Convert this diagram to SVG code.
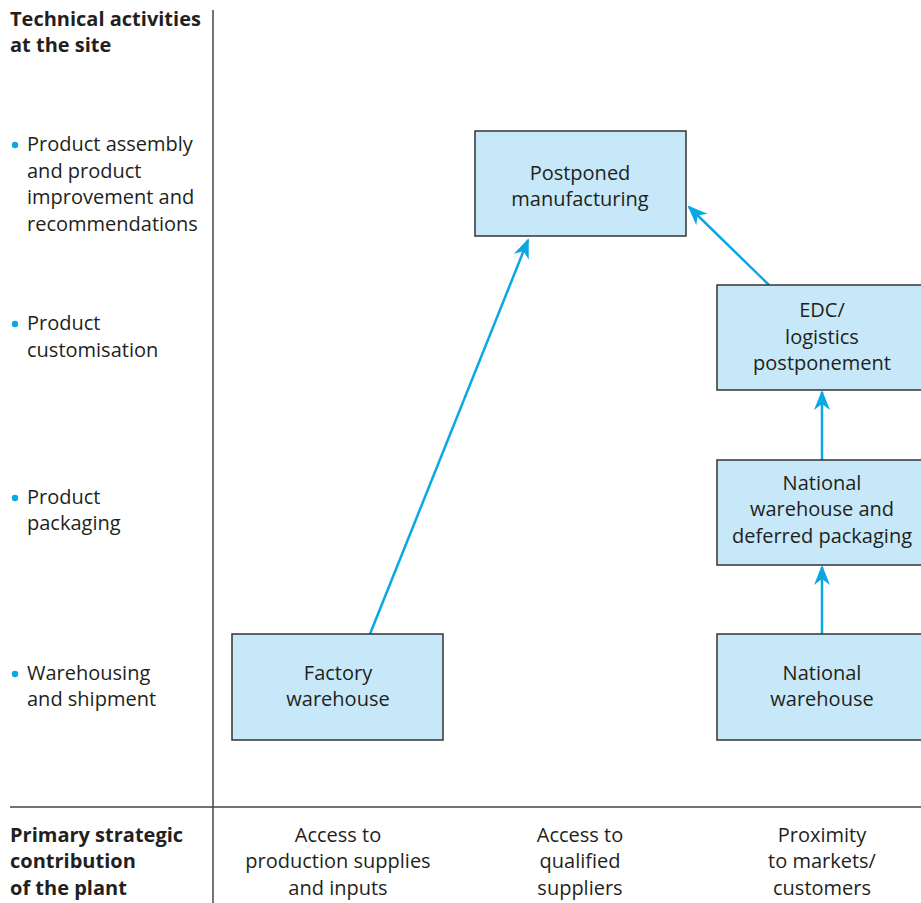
<svg xmlns="http://www.w3.org/2000/svg" width="921" height="903" viewBox="0 0 921 903">
  <style>
    text { font-family: "Open Sans", "Noto Sans", "Liberation Sans", sans-serif; font-size: 20px; fill: #231f20; }
    .b { font-weight: bold; }
    .c { text-anchor: middle; }
    .box { fill: #c7e8f9; stroke: #333333; stroke-width: 1.5; }
    .axis { stroke: #444444; stroke-width: 1.5; fill: none; }
    .conn { stroke: #0ba7e1; stroke-width: 2.5; fill: none; marker-end: url(#head); }
    .dot { fill: #0ba7e1; }
  </style>
  <defs>
    <marker id="head" viewBox="0 0 20 20" refX="18" refY="10" markerWidth="8" markerHeight="8" markerUnits="strokeWidth" orient="auto">
      <path d="M0,2 L20,10 L0,18 L6,10 Z" fill="#0ba7e1"/>
    </marker>
  </defs>
  <rect width="921" height="903" fill="#ffffff"/>

  <!-- axes -->
  <g id="axes">
    <line class="axis" x1="213" y1="10" x2="213" y2="903"/>
    <line class="axis" x1="10" y1="807" x2="921" y2="807"/>
  </g>

  <!-- vertical axis labels -->
  <g id="y-labels">
    <text class="b" x="10" y="26">Technical activities</text>
    <text class="b" x="10" y="52">at the site</text>
    <circle class="dot" cx="15" cy="145" r="3.2"/>
    <text x="27" y="151">Product assembly</text>
    <text x="27" y="178">and product</text>
    <text x="27" y="204">improvement and</text>
    <text x="27" y="231">recommendations</text>
    <circle class="dot" cx="15" cy="324" r="3.2"/>
    <text x="27" y="330">Product</text>
    <text x="27" y="357">customisation</text>
    <circle class="dot" cx="15" cy="498" r="3.2"/>
    <text x="27" y="504">Product</text>
    <text x="27" y="530">packaging</text>
    <circle class="dot" cx="15" cy="674" r="3.2"/>
    <text x="27" y="680">Warehousing</text>
    <text x="27" y="706">and shipment</text>
  </g>

  <!-- horizontal axis labels -->
  <g id="x-labels">
    <text class="b" x="10" y="842">Primary strategic</text>
    <text class="b" x="10" y="868">contribution</text>
    <text class="b" x="10" y="895">of the plant</text>
    <text class="c" x="338" y="842">Access to</text>
    <text class="c" x="338" y="868">production supplies</text>
    <text class="c" x="338" y="895">and inputs</text>
    <text class="c" x="580" y="842">Access to</text>
    <text class="c" x="580" y="868">qualified</text>
    <text class="c" x="580" y="895">suppliers</text>
    <text class="c" x="822" y="842">Proximity</text>
    <text class="c" x="822" y="868">to markets/</text>
    <text class="c" x="822" y="895">customers</text>
  </g>

  <!-- connectors -->
  <g id="connectors">
    <line class="conn" x1="370" y1="634" x2="528" y2="240"/>
    <line class="conn" x1="769" y1="285" x2="689" y2="207"/>
    <line class="conn" x1="822" y1="460" x2="822" y2="392"/>
    <line class="conn" x1="822" y1="634" x2="822" y2="567"/>
  </g>

  <!-- nodes -->
  <g id="postponed-manufacturing">
    <rect class="box" x="475" y="131" width="211" height="105"/>
    <text class="c" x="580" y="180">Postponed</text>
    <text class="c" x="580" y="206">manufacturing</text>
  </g>
  <g id="edc">
    <rect class="box" x="717" y="285" width="210" height="105"/>
    <text class="c" x="822" y="317">EDC/</text>
    <text class="c" x="822" y="344">logistics</text>
    <text class="c" x="822" y="370">postponement</text>
  </g>
  <g id="national-warehouse-packaging">
    <rect class="box" x="717" y="460" width="210" height="105"/>
    <text class="c" x="822" y="490">National</text>
    <text class="c" x="822" y="516">warehouse and</text>
    <text class="c" x="822" y="543">deferred packaging</text>
  </g>
  <g id="national-warehouse">
    <rect class="box" x="717" y="634" width="210" height="106"/>
    <text class="c" x="822" y="680">National</text>
    <text class="c" x="822" y="706">warehouse</text>
  </g>
  <g id="factory-warehouse">
    <rect class="box" x="232" y="634" width="211" height="106"/>
    <text class="c" x="338" y="680">Factory</text>
    <text class="c" x="338" y="706">warehouse</text>
  </g>
</svg>
